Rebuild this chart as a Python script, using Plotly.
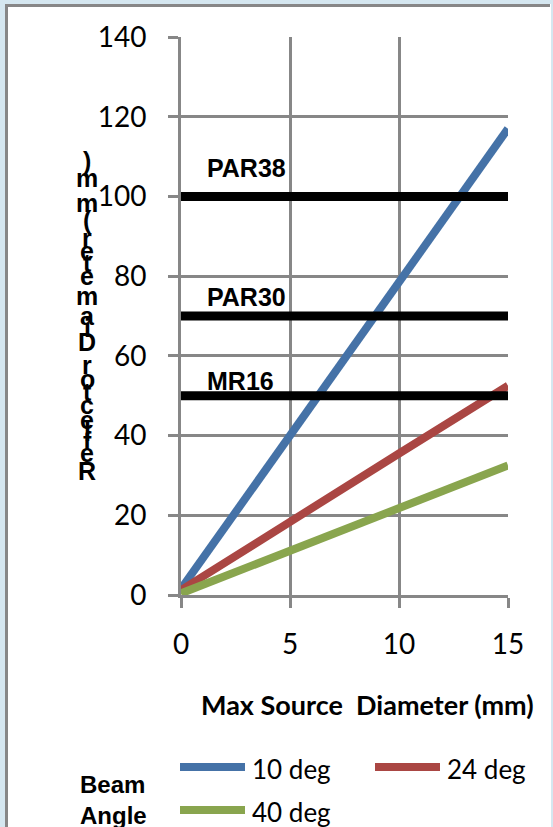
import plotly.graph_objects as go

# Maximum source diameter (mm) vs. required reflector diameter (mm)
source_mm = [0, 5, 10, 15]
beam_names = ["10 deg", "24 deg", "40 deg"]
beam_colors = ["#4572A7", "#AA4643", "#89A54E"]
reflector_10 = [1.5, 40, 78.5, 117]
reflector_24 = [1.2, 18.5, 35.5, 52.5]
reflector_40 = [0.4, 11, 21.6, 32.5]

# Standard lamp reflector sizes (mm) and their label heights
lamp_names = ["PAR38", "PAR30", "MR16"]
lamp_diam = [100, 70, 50]
lamp_label_y = [107.2, 74.8, 53.7]

x_ticks = [0, 5, 10, 15]
y_ticks = [0, 20, 40, 60, 80, 100, 120, 140]

W, H = 553, 827
ML, MR, MT, MB = 181, 45, 37, 232
PW, PH = W - ML - MR, H - MT - MB

GRID = "#878787"
BG = "#D5E7F0"
TICK_FONT = dict(family="Lato", size=28, color="#000000")


def px(x):
    return (x - ML) / PW


def py(y):
    return (H - MB - y) / PH


fig = go.Figure()

for name, color, vals in zip(beam_names, beam_colors,
                             [reflector_10, reflector_24, reflector_40]):
    fig.add_trace(go.Scatter(x=source_mm, y=vals, mode="lines", name=name,
                             line=dict(color=color, width=8),
                             showlegend=False, hoverinfo="skip"))

for name, d in zip(lamp_names, lamp_diam):
    fig.add_trace(go.Scatter(x=[source_mm[0], source_mm[-1]], y=[d, d],
                             mode="lines", name=name,
                             line=dict(color="#000000", width=9),
                             showlegend=False, hoverinfo="skip"))

annotations = []
for name, ly in zip(lamp_names, lamp_label_y):
    annotations.append(dict(x=1.1, y=ly, xref="x", yref="y", text=name,
                            showarrow=False, xanchor="left", yanchor="middle",
                            font=dict(family="Liberation Sans", size=25,
                                      color="#000000", weight="bold")))

# x-axis title
annotations.append(dict(x=px(367), y=py(704), xref="paper", yref="paper",
                        text="<b>Max Source  Diameter (mm)</b>", showarrow=False,
                        xanchor="center", yanchor="middle",
                        font=dict(family="Lato", size=27, color="#000000")))

# y-axis title, characters stacked upright from bottom to top
adv = {"R": .722, "e": .556, "f": .333, "l": .278, "c": .556, "t": .333,
       "o": .611, "r": .389, " ": .278, "D": .722, "i": .278, "a": .556,
       "m": .889, "(": .333, ")": .333}
y_title = "Reflector Diameter (mm)"
pos = 0.0
scale = 28.0
base_y = 471 + adv["R"] / 2 * scale
for ch in y_title:
    w = adv[ch]
    cy = base_y - (pos + w / 2) * scale
    pos += w
    if ch == " ":
        continue
    annotations.append(dict(x=px(87), y=py(cy), xref="paper", yref="paper",
                            text=ch, showarrow=False, xanchor="center",
                            yanchor="middle",
                            font=dict(family="Liberation Sans", size=25,
                                      color="#000000", weight="bold")))

# legend
annotations.append(dict(x=px(78), y=py(800), xref="paper", yref="paper",
                        text="Beam<br>Angle", showarrow=False, xanchor="left",
                        yanchor="middle", align="left",
                        font=dict(family="Liberation Sans", size=24,
                                  color="#000000", weight="bold")))
legend_pos = [(180, 767), (375, 767), (180, 810)]
shapes = [
    dict(type="rect", xref="paper", yref="paper", x0=px(5), x1=px(551),
         y0=py(4), y1=py(840), fillcolor="#FFFFFF", line=dict(width=0),
         layer="below"),
    dict(type="line", xref="paper", yref="paper", x0=px(6.5), x1=px(6.5),
         y0=py(4), y1=py(840), line=dict(color=GRID, width=3), layer="below"),
    dict(type="line", xref="paper", yref="paper", x0=px(5), x1=px(550),
         y0=py(5.5), y1=py(5.5), line=dict(color=GRID, width=3), layer="below"),
]
for name, color, (lx, ly) in zip(beam_names, beam_colors, legend_pos):
    shapes.append(dict(type="line", xref="paper", yref="paper",
                       x0=px(lx), x1=px(lx + 65), y0=py(ly), y1=py(ly),
                       line=dict(color=color, width=8)))
    annotations.append(dict(x=px(lx + 70), y=py(ly + 2), xref="paper",
                            yref="paper", text=name, showarrow=False,
                            xanchor="left", yanchor="middle",
                            font=dict(family="Lato", size=26, color="#000000")))

fig.update_layout(
    width=W, height=H,
    margin=dict(l=ML, r=MR, t=MT, b=MB, pad=0),
    paper_bgcolor=BG,
    plot_bgcolor="rgba(0,0,0,0)",
    showlegend=False,
    annotations=annotations,
    shapes=shapes,
)
fig.update_xaxes(range=[0, 15], tickvals=x_ticks, ticktext=[str(v) for v in x_ticks],
                 showgrid=True, gridcolor=GRID, gridwidth=3,
                 showline=True, linecolor=GRID, linewidth=3,
                 ticks="outside", ticklen=10, tickwidth=3, tickcolor=GRID,
                 ticklabelstandoff=12, zeroline=False, tickfont=TICK_FONT)
fig.update_yaxes(range=[0, 140], tickvals=y_ticks, ticktext=[str(v) for v in y_ticks],
                 showgrid=True, gridcolor=GRID, gridwidth=3,
                 showline=True, linecolor=GRID, linewidth=3,
                 ticks="outside", ticklen=10, tickwidth=3, tickcolor=GRID,
                 ticklabelstandoff=16, zeroline=False, tickfont=TICK_FONT)

fig.write_html("out.html")
